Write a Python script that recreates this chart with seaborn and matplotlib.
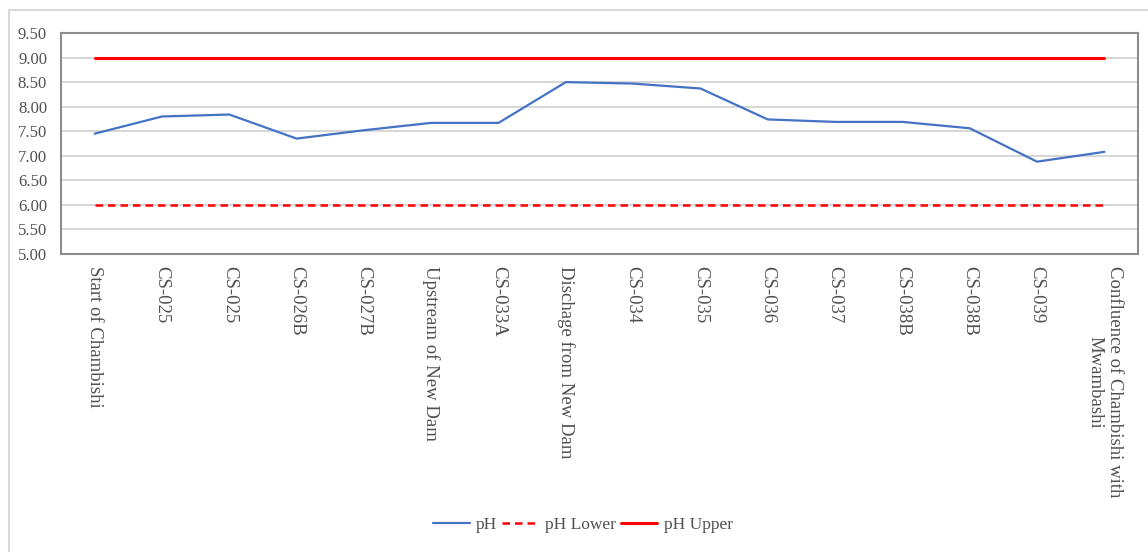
import matplotlib
matplotlib.use("Agg")
import matplotlib.pyplot as plt
import seaborn as sns
import pandas as pd
import numpy as np
from matplotlib.patches import Rectangle

sites = ["Start of Chambishi", "CS-025", "CS-025", "CS-026B", "CS-027B",
         "Upstream of New Dam", "CS-033A", "Dischage from New Dam", "CS-034",
         "CS-035", "CS-036", "CS-037", "CS-038B", "CS-038B", "CS-039",
         "Confluence of Chambishi with\nMwambashi"]
ph = [7.45, 7.80, 7.84, 7.35, 7.52, 7.67, 7.67, 8.50, 8.47, 8.37,
      7.74, 7.69, 7.69, 7.56, 6.88, 7.08]
ph_lower = [6.0] * 16
ph_upper = [9.0] * 16
yticks = [5.0, 5.5, 6.0, 6.5, 7.0, 7.5, 8.0, 8.5, 9.0, 9.5]

sns.set_theme(style="white")
plt.rcParams['font.family'] = ['Liberation Serif', 'DejaVu Serif']

W, H = 1148, 552
fig = plt.figure(figsize=(W / 100, H / 100), dpi=100)
fig.patches.append(Rectangle((9 / W, -0.1), 1.2, 1 - 10 / H + 0.1,
                             transform=fig.transFigure, fill=False,
                             edgecolor="#d9d9d9", linewidth=1.5))
ax = fig.add_axes([61 / W, 1 - 254 / H, (1138 - 61) / W, (254 - 33) / H])

pos = np.arange(len(sites))
df = pd.DataFrame({"pos": pos, "pH": ph, "pH Lower": ph_lower, "pH Upper": ph_upper})

sns.lineplot(data=df, x="pos", y="pH", ax=ax, color="#4472C4", linewidth=1.6,
             sort=False, label="pH")
sns.lineplot(data=df, x="pos", y="pH Lower", ax=ax, color="#FF0000", linewidth=1.8,
             sort=False, label="pH Lower", dashes=False)
ax.lines[-1].set_linestyle((0, (3, 2)))
sns.lineplot(data=df, x="pos", y="pH Upper", ax=ax, color="#FF0000", linewidth=2.2,
             sort=False, label="pH Upper")

ax.set_xlim(-0.5, len(sites) - 0.5)
ax.set_ylim(5.0, 9.5)
ax.set_yticks(yticks)
ax.set_yticklabels([f"{v:.2f}" for v in yticks], fontsize=12, color="#505050")
ax.yaxis.grid(True, color="#d0d0d0", linewidth=1.2)
ax.set_axisbelow(True)
ax.set_xticks(pos)
ax.set_xticklabels(sites, rotation=-90, fontsize=13.5, color="#505050",
                   ha="center", va="top", multialignment="center")
ax.tick_params(axis="both", length=0)
ax.tick_params(axis="x", pad=9)
ax.tick_params(axis="y", pad=10)
ax.set_xlabel("")
ax.set_ylabel("")
for s in ax.spines.values():
    s.set_color("#8c8c8c")
    s.set_linewidth(1.5)

leg = ax.legend(loc="center", bbox_to_anchor=(583 / W, 1 - 525 / H),
                bbox_transform=fig.transFigure, ncol=3, frameon=False,
                fontsize=12.5, handlelength=2.1, columnspacing=0.3,
                handletextpad=0.35)
for t in leg.get_texts():
    t.set_color("#505050")

fig.savefig("out.png", dpi=100)
